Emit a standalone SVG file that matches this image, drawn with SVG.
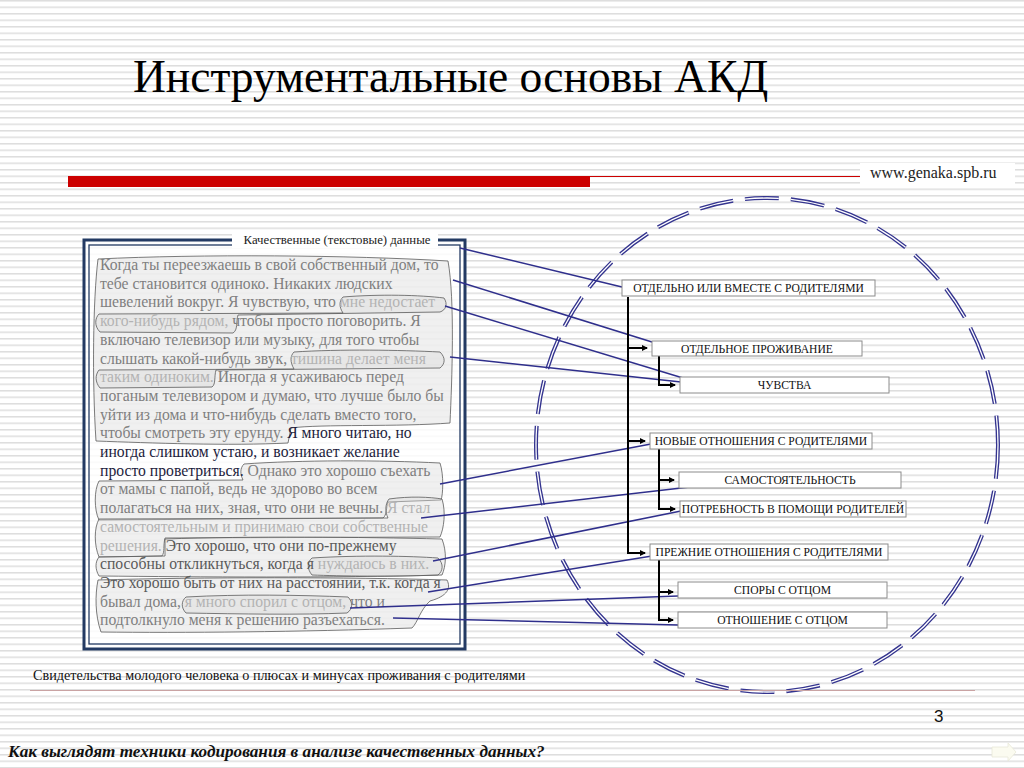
<svg xmlns="http://www.w3.org/2000/svg" width="1024" height="768" viewBox="0 0 1024 768">
<defs>
<pattern id="bg" width="16" height="6.5" patternUnits="userSpaceOnUse">
<rect width="16" height="6.5" fill="#ffffff"/>
<rect y="0" width="16" height="1.5" fill="#dedede"/>
</pattern>
<marker id="arr" markerWidth="6" markerHeight="6" refX="5" refY="3" orient="auto" markerUnits="userSpaceOnUse">
<path d="M0,0 L6,3 L0,6 Z" fill="#000"/>
</marker>
<style>
.serif{font-family:"Liberation Serif","Times New Roman",serif}
.box rect{fill:#fff;stroke:#8c8c8c;stroke-width:1}
.box text{font-family:"Liberation Serif","Times New Roman",serif;font-size:11.6px;fill:#111;text-anchor:middle}
.tree{fill:none;stroke:#000;stroke-width:2}
.conn line{stroke:#2f2f8c;stroke-width:1.5}
.loop{fill:#d9d9d9;fill-opacity:0.4;stroke:#5a5a5a;stroke-width:0.8;stroke-linejoin:round}
.g{fill:#7f7f7f}.l{fill:#b3b3b3}.d{fill:#1c1c3c}.m{fill:#5a5a5a}
</style>
</defs>
<rect width="1024" height="768" fill="url(#bg)"/>

<g id="title">
<text x="133" y="92" class="serif" font-size="45.5" fill="#000">Инструментальные основы АКД</text>
</g>

<g id="header-bar">
<rect x="68" y="176" width="522" height="11" fill="#cc0000"/>
<line x1="590" y1="176.5" x2="860" y2="176.5" stroke="#cc0000" stroke-width="1"/>
<rect x="860" y="163" width="155" height="22" fill="#fff"/>
<text x="870" y="178" class="serif" font-size="16" fill="#222">www.genaka.spb.ru</text>
</g>

<g id="circle">
<ellipse cx="767" cy="445" rx="231" ry="247" fill="none" stroke="#34348f" stroke-width="4" stroke-dasharray="34 12"/>
<ellipse cx="767" cy="445" rx="231" ry="247" fill="none" stroke="#ffffff" stroke-width="1.3" stroke-dasharray="34 12"/>
</g>

<g id="text-panel">
<rect x="84" y="240" width="381" height="409" fill="#ffffff" fill-opacity="0.8" stroke="#233a63" stroke-width="3"/>
<rect x="89" y="245" width="371" height="399" fill="none" stroke="#233a63" stroke-width="1.3"/>
<rect x="232" y="233" width="206" height="15" fill="#fff"/>
<text x="337" y="244" class="serif" font-size="12.8" fill="#222" text-anchor="middle">Качественные (текстовые) данные</text>

<path class="loop" d="M98,259 C200,254 350,255 448,261 C455,300 452,380 450,423 C400,427 320,424 291,428 L288,443 C230,446 150,443 96,441 C92,380 93,300 98,259 Z"/>
<path class="loop" d="M343,297 C380,294 420,295 444,298 C448,304 446,310 440,312 L238,315 C236,322 238,330 233,333 L100,332 C94,326 95,318 99,314 L343,313 C339,307 339,301 343,297 Z"/>
<path class="loop" d="M294,352 C340,349 400,350 440,352 C446,358 445,364 440,368 L216,370 C214,377 216,384 212,387 L100,388 C95,382 95,375 99,370 L294,369 C290,362 290,356 294,352 Z"/>
<path class="loop" d="M244,464 C300,460 380,460 440,463 C444,475 443,495 441,500 L388,502 C386,508 387,515 383,518 L99,520 C94,510 94,490 99,481 L243,480 C240,474 240,468 244,464 Z"/>
<path class="loop" d="M389,499 C410,496 430,497 442,499 C446,512 444,528 440,537 L165,538 C163,546 165,552 162,556 L99,557 C94,545 94,528 99,519 L388,518 C385,512 385,504 389,499 Z"/>
<path class="loop" d="M165,539 C250,536 360,537 442,539 C447,552 446,566 442,575 C330,578 200,577 99,576 C95,569 95,562 99,557 L165,556 Z"/>
<path class="loop" d="M312,558 C360,555 410,556 438,558 C444,564 443,571 438,575 C390,577 340,576 312,575 C307,569 307,562 312,558 Z"/>
<path class="loop" d="M98,580 C200,577 350,577 447,580 C451,588 448,596 430,601 C420,610 418,622 412,628 C300,632 180,633 101,632 C95,615 95,595 98,580 Z"/>
<path class="loop" d="M186,597 C240,594 300,595 348,597 C353,602 353,609 347,613 C300,615 240,614 186,613 C181,608 181,601 186,597 Z"/>

<text class="serif" font-size="15.7" x="100" y="270">
<tspan class="g">Когда ты переезжаешь в свой собственный дом, то</tspan>
<tspan x="100" y="288.7" class="g">тебе становится одиноко. Никаких людских</tspan>
<tspan x="100" y="307.4" class="g">шевелений вокруг. Я чувствую, что </tspan><tspan class="l">мне недостает</tspan>
<tspan x="100" y="326.1" class="l">кого-нибудь рядом,</tspan><tspan class="g"> чтобы просто поговорить. Я</tspan>
<tspan x="100" y="344.8" class="g">включаю телевизор или музыку, для того чтобы</tspan>
<tspan x="100" y="363.5" class="g">слышать какой-нибудь звук, </tspan><tspan class="l">тишина делает меня</tspan>
<tspan x="100" y="382.2" class="l">таким одиноким.</tspan><tspan class="g"> Иногда я усаживаюсь перед</tspan>
<tspan x="100" y="400.9" class="g">поганым телевизором и думаю, что лучше было бы</tspan>
<tspan x="100" y="419.6" class="g">уйти из дома и что-нибудь сделать вместо того,</tspan>
<tspan x="100" y="438.3" class="g">чтобы смотреть эту ерунду. </tspan><tspan class="d">Я много читаю, но</tspan>
<tspan x="100" y="457" class="d">иногда слишком устаю, и возникает желание</tspan>
<tspan x="100" y="475.7" class="d">просто проветриться.</tspan><tspan class="g"> Однако это хорошо съехать</tspan>
<tspan x="100" y="494.4" class="g">от мамы с папой, ведь не здорово во всем</tspan>
<tspan x="100" y="513.1" class="g">полагаться на них, зная, что они не вечны. </tspan><tspan class="l">Я стал</tspan>
<tspan x="100" y="531.8" class="l">самостоятельным и принимаю свои собственные</tspan>
<tspan x="100" y="550.5" class="l">решения.</tspan><tspan class="m"> Это хорошо, что они по-прежнему</tspan>
<tspan x="100" y="569.2" class="m">способны откликнуться, когда я </tspan><tspan class="l">нуждаюсь в них.</tspan>
<tspan x="100" y="587.9" class="m">Это хорошо быть от них на расстоянии, т.к. когда я</tspan>
<tspan x="100" y="606.6" class="g">бывал дома, </tspan><tspan class="l">я много спорил с отцом,</tspan><tspan class="g"> что и</tspan>
<tspan x="100" y="625.3" class="g">подтолкнуло меня к решению разъехаться.</tspan>
</text>
</g>

<g id="connectors" class="conn">
<line x1="460" y1="248" x2="622" y2="287"/>
<line x1="453" y1="280" x2="652" y2="342"/>
<line x1="445" y1="306" x2="683" y2="378"/>
<line x1="450" y1="357" x2="681" y2="382"/>
<line x1="440" y1="484" x2="651" y2="444"/>
<line x1="421" y1="518" x2="690" y2="487"/>
<line x1="433" y1="561" x2="681" y2="511"/>
<line x1="428" y1="592" x2="652" y2="556"/>
<line x1="350" y1="608" x2="678" y2="596"/>
<line x1="393" y1="618" x2="678" y2="625"/>
</g>

<g id="tree">
<path class="tree" d="M628,297 V553 H645" marker-end="url(#arr)"/>
<path class="tree" d="M628,348 H647" marker-end="url(#arr)"/>
<path class="tree" d="M628,441 H645" marker-end="url(#arr)"/>
<path class="tree" d="M659,356 V385 H675" marker-end="url(#arr)"/>
<path class="tree" d="M659,449 V509 H675" marker-end="url(#arr)"/>
<path class="tree" d="M659,480 H674" marker-end="url(#arr)"/>
<path class="tree" d="M659,560 V620 H673" marker-end="url(#arr)"/>
<path class="tree" d="M659,592 H673" marker-end="url(#arr)"/>
</g>

<g id="node-1" class="box"><rect x="622" y="280" width="253" height="16"/><text x="748.5" y="292.2">ОТДЕЛЬНО ИЛИ ВМЕСТЕ С РОДИТЕЛЯМИ</text></g>
<g id="node-2" class="box"><rect x="652" y="341" width="210" height="15"/><text x="757" y="352.7">ОТДЕЛЬНОЕ ПРОЖИВАНИЕ</text></g>
<g id="node-3" class="box"><rect x="680" y="377" width="209" height="16"/><text x="784.5" y="389.2">ЧУВСТВА</text></g>
<g id="node-4" class="box"><rect x="650" y="433" width="222" height="16"/><text x="761" y="445.2">НОВЫЕ ОТНОШЕНИЯ С РОДИТЕЛЯМИ</text></g>
<g id="node-5" class="box"><rect x="679" y="472" width="222" height="16"/><text x="790" y="484.2">САМОСТОЯТЕЛЬНОСТЬ</text></g>
<g id="node-6" class="box"><rect x="680" y="501" width="226" height="16"/><text x="793" y="513.2">ПОТРЕБНОСТЬ В ПОМОЩИ РОДИТЕЛЕЙ</text></g>
<g id="node-7" class="box"><rect x="650" y="544" width="238" height="16"/><text x="769" y="556.2">ПРЕЖНИЕ ОТНОШЕНИЯ С РОДИТЕЛЯМИ</text></g>
<g id="node-8" class="box"><rect x="678" y="582" width="209" height="16"/><text x="782.5" y="594.2">СПОРЫ С ОТЦОМ</text></g>
<g id="node-9" class="box"><rect x="678" y="612" width="209" height="16"/><text x="782.5" y="624.2">ОТНОШЕНИЕ С ОТЦОМ</text></g>

<g id="footer">
<text x="33" y="680" class="serif" font-size="14.2" fill="#111">Свидетельства молодого человека о плюсах и минусах проживания с родителями</text>
<line x1="30" y1="690.5" x2="975" y2="690.5" stroke="#c9a3a3" stroke-width="1"/>
<text x="934" y="722" font-family="Liberation Sans, Arial, sans-serif" font-size="17" fill="#111">3</text>
<text x="8" y="757" class="serif" font-size="17.2" font-weight="bold" font-style="italic" fill="#111">Как выглядят техники кодирования в анализе качественных данных?</text>
<path d="M992,747 H1008 V743 L1016,752 L1008,761 V757 H992 Z" fill="#fbfbf0" stroke="#e8e8d8" stroke-width="0.8"/>
</g>
</svg>
